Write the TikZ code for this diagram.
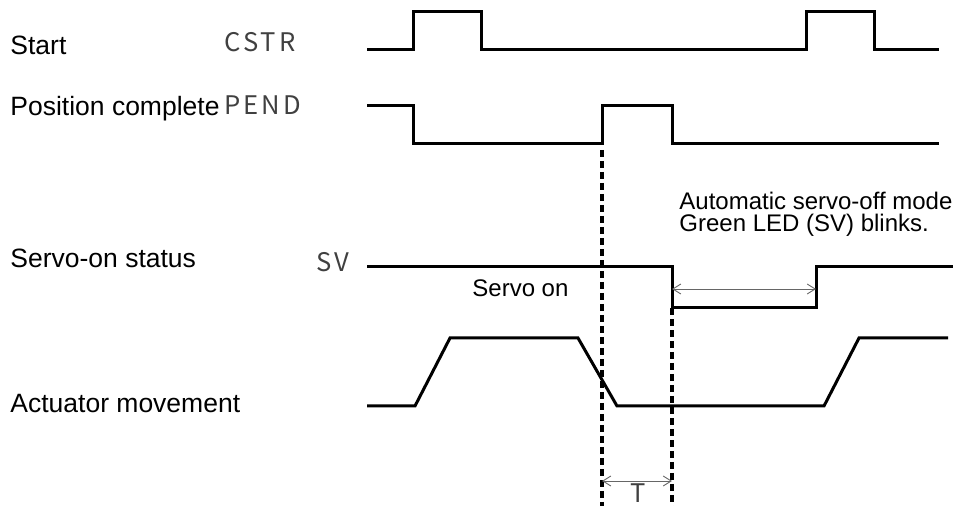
\documentclass[tikz,border=0pt]{standalone}
\usepackage{fontspec}
\setmainfont{Liberation Sans}
\newfontfamily\gfont[LetterSpace=12]{Noto Sans CJK JP}
\usetikzlibrary{arrows.meta}
\begin{document}
\begin{tikzpicture}[x=0.5pt,y=-0.5pt,
  sig/.style={line width=1.5pt,line join=miter},
  vdash/.style={line width=1.8pt,dash pattern=on 3.5pt off 2pt},
  dim/.style={line width=0.45pt,black!60,{Straight Barb[length=4pt,width=5pt]}-{Straight Barb[length=4pt,width=5pt]}},
  lbl/.style={inner sep=0pt,anchor=base west,font=\fontsize{13.25}{15}\selectfont},
  note/.style={inner sep=0pt,anchor=base west,font=\fontsize{12}{14}\selectfont},
  code/.style={inner sep=0pt,anchor=base west,font=\gfont\fontsize{12.8}{14}\selectfont,text=black!75}]
\useasboundingbox (0,0) rectangle (957,506);
% labels
\node[lbl] (start) at (10,55) {Start};
\node[code] (cstr) at (224,52) {CSTR};
\node[lbl] (pos) at (10,116) {Position complete};
\node[code] (pend) at (224,115) {PEND};
\node[lbl] (servo) at (10,268) {Servo-on status};
\node[code] (sv) at (316,272) {SV};
\node[note] (son) at (472,297) {Servo on};
\node[lbl] (act) at (10,413) {Actuator movement};
\node[note] (auto1) at (679,210) {Automatic servo-off mode};
\node[note] (auto2) at (679,232) {Green LED (SV) blinks.};
\node[code,anchor=base] (t) at (638,503) {T};
% waveforms
\draw[sig] (367,50) -- (413,50) -- (413,12) -- (481,12) -- (481,50) -- (806,50) -- (806,12) -- (874,12) -- (874,50) -- (939,50);
\draw[sig] (367,106) -- (413,106) -- (413,144) -- (602,144) -- (602,106) -- (672,106) -- (672,144) -- (939,144);
\draw[sig] (367,267) -- (672,267) -- (672,308) -- (816,308) -- (816,267) -- (953,267);
\draw[sig] (367,406) -- (415,406) -- (450,338) -- (578,338) -- (617,406) -- (824,406) -- (859,338) -- (948,338);
% dashed timing lines
\coordinate (d1top) at (602,150);
\coordinate (d1bot) at (602,506);
\coordinate (d2top) at (672,308);
\coordinate (d2bot) at (672,506);
\draw[vdash] (d1top) -- (d1bot);
\draw[vdash] (d2top) -- (d2bot);
% dimension arrows
\coordinate (a1) at (672,289);
\coordinate (a2) at (816,289);
\coordinate (t1) at (602,481);
\coordinate (t2) at (672,481);
\draw[dim] (a1) -- (a2);
\draw[dim] (t1) -- (t2);
\end{tikzpicture}
\end{document}
